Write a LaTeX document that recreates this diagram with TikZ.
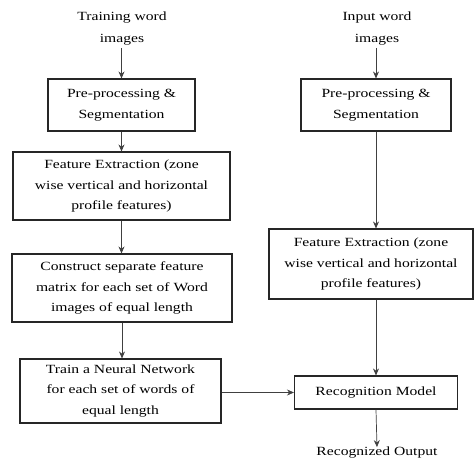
\documentclass[tikz,border=0pt]{standalone}
\usepackage{fontspec}
\setmainfont{Liberation Serif}[FakeStretch=1.25]
\usetikzlibrary{arrows.meta}
\begin{document}
\begin{tikzpicture}[x=1pt,y=-1pt,
  box/.style={draw=black!85,line width=1.1pt,align=center,inner sep=0pt,font=\fontsize{12.5}{20.5}\selectfont},
  lbl/.style={align=center,inner sep=0pt,font=\fontsize{12.5}{22}\selectfont},
  arr/.style={-{Stealth[length=7pt,width=6pt]},line width=0.7pt,draw=black!75}]
\useasboundingbox (0,0) rectangle (475,461);
\node[lbl] (tr) at (122,29) {Training word\\images};
\node[lbl] (in) at (377,29) {Input word\\images};
\node[box,minimum width=147pt,minimum height=52pt] (b1) at (121.5,105) {Pre-processing \&\\Segmentation};
\node[box,minimum width=217pt,minimum height=68pt] (b2) at (121.5,186) {Feature Extraction (zone\\wise vertical and horizontal\\profile features)};
\node[box,minimum width=220pt,minimum height=68pt] (b3) at (122,288) {Construct separate feature\\matrix for each set of Word\\images of equal length};
\node[box,minimum width=201pt,minimum height=64pt] (b4) at (120.5,391) {Train a Neural Network\\for each set of words of\\equal length};
\node[box,minimum width=150pt,minimum height=52pt] (r1) at (376,105) {Pre-processing \&\\Segmentation};
\node[box,minimum width=204pt,minimum height=70pt] (r2) at (371,264) {Feature Extraction (zone\\wise vertical and horizontal\\profile features)};
\node[box,minimum width=163pt,minimum height=33pt] (rec) at (376,392.5) {Recognition Model};
\node[lbl] (out) at (377,453) {Recognized Output};
\draw[arr] (tr.south -| b1.north) ++(0,2) coordinate (t1) -- (b1.north);
\draw[arr] (b1.south) -- (b1.south |- b2.north);
\draw[arr] (b2.south) -- (b2.south |- b3.north);
\draw[arr] (b3.south) -- (b3.south |- b4.north);
\draw[arr] (in.south -| r1.north) ++(0,2) coordinate (t2) -- (r1.north);
\draw[arr] (r1.south) -- (r1.south |- r2.north);
\draw[arr] (r2.south -| rec.north) -- (rec.north);
\draw[arr] (b4.east |- rec.west) -- (rec.west);
\draw[arr] (rec.south) -- (out.north);
\end{tikzpicture}
\end{document}
